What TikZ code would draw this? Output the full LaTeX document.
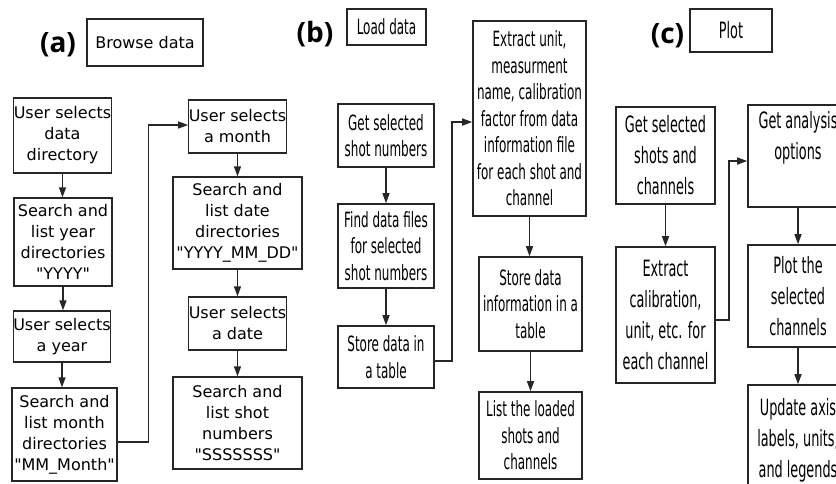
\documentclass[tikz,border=0pt]{standalone}
\usepackage{fontspec}
\setmainfont[Ligatures=TeXOff]{DejaVu Sans}
\newfontfamily\condb[FakeStretch=0.57,Ligatures=TeXOff]{DejaVu Sans}
\newfontfamily\condc[FakeStretch=0.57,Ligatures=TeXOff]{DejaVu Sans}
\newfontfamily\lblfont{Open Sans}
\usetikzlibrary{arrows.meta}
\tikzset{
  box/.style={draw=black!85, line width=1.3pt, inner sep=0pt, align=center},
  abox/.style={box, font=\fontsize{16}{21}\selectfont},
  bbox/.style={box, line width=1.6pt, font=\condb\fontsize{21}{26.5}\selectfont},
  cbox/.style={box, line width=1.6pt, font=\condc\fontsize{22.5}{31}\selectfont},
  lbl/.style={inner sep=0pt, font=\lblfont\bfseries\fontsize{28}{30}\selectfont},
  arr/.style={draw=black!85, line width=1.4pt, -{Triangle[length=10pt,width=7pt]}},
}
\begin{document}
\begin{tikzpicture}[x=1pt,y=-1pt]
\clip (0,0) rectangle (836,483);
\useasboundingbox (0,0) rectangle (836,483);
% (a)
\node[lbl] (la) at (58,44.5) {(a)};
\node[abox, minimum width=116pt, minimum height=47pt] (ta) at (145,42.5) {Browse data};
\node[abox, minimum width=97pt, minimum height=75pt] (A1) at (62.5,135.5) {User selects\\data\\directory};
\node[abox, minimum width=98pt, minimum height=88pt] (A2) at (63,242) {Search and\\list year\\directories\\"YYYY"};
\node[abox, minimum width=96pt, minimum height=51pt] (A3) at (62,336.5) {User selects\\a year};
\node[abox, minimum width=105pt, minimum height=93pt] (A4) at (64.5,434.5) {Search and\\list month\\directories\\"MM\_Month"};
\node[abox, minimum width=97pt, minimum height=53pt] (A5) at (237.5,126.5) {User selects\\a month};
\node[abox, minimum width=129pt, minimum height=92pt] (A6) at (237.5,223) {Search and\\list date\\directories\\"YYYY\_MM\_DD"};
\node[abox, minimum width=97pt, minimum height=53pt] (A7) at (237.5,323.5) {User selects\\a date};
\node[abox, minimum width=129pt, minimum height=92pt] (A8) at (237.5,423) {Search and\\list shot\\numbers\\"SSSSSSS"};
\draw[arr] (A1.south) -- (A1.south |- A2.north);
\draw[arr] (A2.south) -- (A2.south |- A3.north);
\draw[arr] (A3.south) -- (A3.south |- A4.north);
\draw[arr] (A5.south) -- (A5.south |- A6.north);
\draw[arr] (A6.south) -- (A6.south |- A7.north);
\draw[arr] (A7.south) -- (A7.south |- A8.north);
\draw[arr] ([yshift=-7.5pt]A4.east) -- ++(31pt,0) |- ([yshift=1.5pt]A5.west);
% (b)
\node[lbl] (lb) at (315,34.5) {(b)};
\node[bbox, minimum width=79pt, minimum height=36pt] (tb) at (386.5,27) {Load data};
\node[bbox, minimum width=96pt, minimum height=63pt] (B1) at (386,135.5) {Get selected\\shot numbers};
\node[bbox, minimum width=96pt, minimum height=84pt] (B2) at (386,246) {Find data files\\for selected\\shot numbers};
\node[bbox, minimum width=96pt, minimum height=62pt] (B3) at (386,357) {Store data in\\a table};
\node[bbox, minimum width=113pt, minimum height=195pt] (B4) at (529.5,118.5) {Extract unit,\\measurment\\name, calibration\\factor from data\\information file\\for each shot and\\channel};
\node[bbox, minimum width=103pt, minimum height=94pt] (B5) at (530.5,304) {Store data\\information in a\\table};
\node[bbox, minimum width=103pt, minimum height=87pt] (B6) at (530.5,435.5) {List the loaded\\shots and\\channels};
\draw[arr] (B1.south) -- (B1.south |- B2.north);
\draw[arr] (B2.south) -- (B2.south |- B3.north);
\draw[arr] (B4.south) -- (B4.south |- B5.north);
\draw[arr] (B5.south) -- (B5.south |- B6.north);
\draw[arr] ([yshift=-4pt]B3.east) -- ++(17pt,0) |- ([yshift=-3.5pt]B4.west);
% (c)
\node[lbl] (lc) at (667.5,35.5) {(c)};
\node[cbox, minimum width=82pt, minimum height=43pt] (tc) at (731,30.5) {Plot};
\node[cbox, minimum width=99pt, minimum height=97pt] (C1) at (665.5,155.5) {Get selected\\shots and\\channels};
\node[cbox, minimum width=99pt, minimum height=136pt] (C2) at (665.5,315) {Extract\\calibration,\\unit, etc. for\\each channel};
\node[cbox, minimum width=100pt, minimum height=102pt] (C3) at (798,156) {Get analysis\\options\\\strut};
\node[cbox, minimum width=100pt, minimum height=102pt] (C4) at (798,296) {Plot the\\selected\\channels};
\node[cbox, minimum width=100pt, minimum height=110pt] (C5) at (798,440) {Update axis\\labels, units,\\and legends};
\draw[arr] (C1.south) -- (C1.south |- C2.north);
\draw[arr] (C3.south) -- (C3.south |- C4.north);
\draw[arr] (C4.south) -- (C4.south |- C5.north);
\draw[arr] ([yshift=-5pt]C2.east) -- ++(13pt,0) |- ([yshift=-5pt]C3.west);
\end{tikzpicture}
\end{document}
